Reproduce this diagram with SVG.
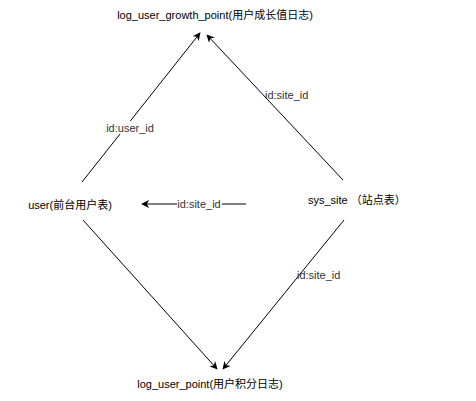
<svg xmlns="http://www.w3.org/2000/svg" width="476" height="401" viewBox="0 0 476 401">
<defs>
<marker id="arr" viewBox="0 0 10 10" refX="9" refY="5" markerWidth="8" markerHeight="8" markerUnits="userSpaceOnUse" orient="auto">
<path d="M0,0 L10,5 L0,10 L3,5 Z" fill="#000"/>
</marker>
</defs>
<style>
text{font-family:"Liberation Sans","Noto Sans CJK SC",Arial,sans-serif;font-size:11px;fill:#000;}
.n{text-anchor:middle;}
.l{font-size:11px;fill:#333;}
line{stroke:#000;stroke-width:1;}
.bg{fill:#fff;}
</style>
<rect width="476" height="401" fill="#fff"/>
<g id="connectors">
<line x1="82" y1="182" x2="200" y2="33" marker-end="url(#arr)"/>
<line x1="343" y1="180" x2="207" y2="35" marker-end="url(#arr)"/>
<line x1="246" y1="204" x2="142" y2="204" marker-end="url(#arr)"/>
<line x1="83" y1="220" x2="217" y2="369" marker-end="url(#arr)"/>
<line x1="344" y1="220" x2="223" y2="369" marker-end="url(#arr)"/>
<rect class="bg" x="105" y="121" width="50" height="13"/>
<text class="l n" x="130" y="132">id:user_id</text>
<text class="l" x="265" y="99">id:site_id</text>
<rect class="bg" x="177" y="198" width="45" height="13"/>
<text class="l n" x="199" y="208">id:site_id</text>
<text class="l" x="297" y="279">id:site_id</text>
</g>
<g id="log_user_growth_point">
<text class="n" x="215" y="19">log_user_growth_point(用户成长值日志)</text>
</g>
<g id="user">
<text class="n" x="70" y="209">user(前台用户表)</text>
</g>
<g id="sys_site">
<text x="308" y="204">sys_site （站点表）</text>
</g>
<g id="log_user_point">
<text class="n" x="210" y="388">log_user_point(用户积分日志)</text>
</g>
</svg>
